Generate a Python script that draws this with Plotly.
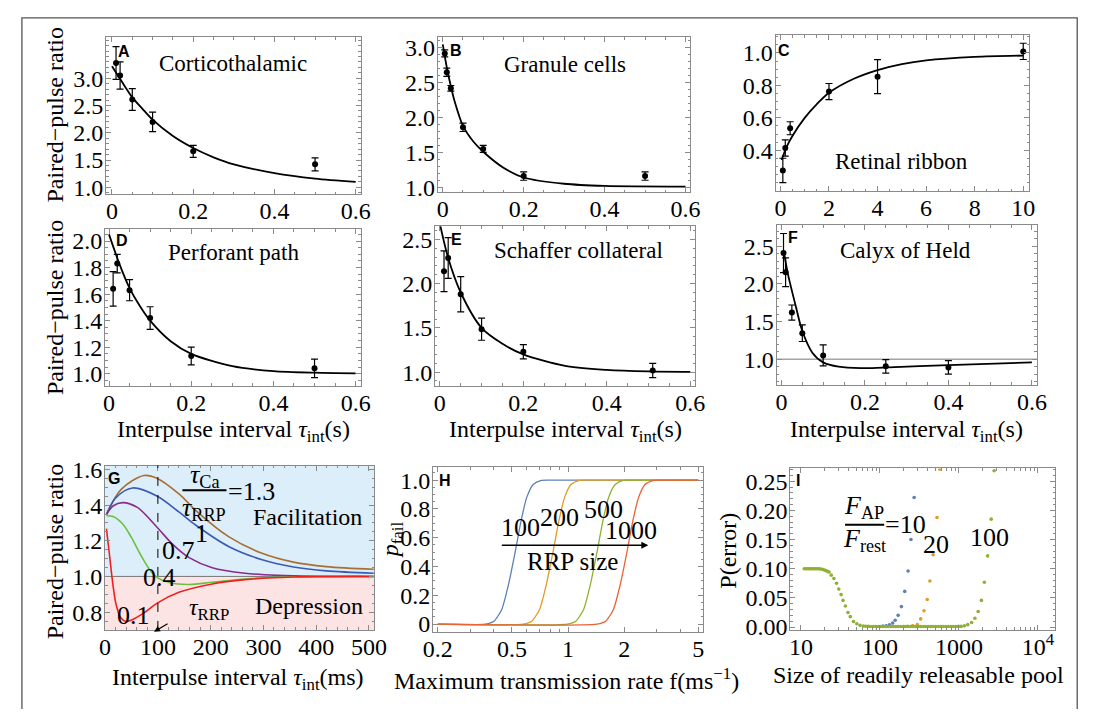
import plotly.graph_objects as go

# The page body keeps its default 8px margin, so the figure is drawn 8px in from each edge
# and all layout positions below are given in full-page pixels, then converted.
PAGE_W, PAGE_H = 1099, 717
OFF = 8
FW, FH = PAGE_W - 2 * OFF, PAGE_H - 2 * OFF
SERIF = "Liberation Serif"
SANS = "Liberation Sans"

# ---------------- data ----------------
# A Corticothalamic
a_x = [0.01, 0.02, 0.05, 0.1, 0.2, 0.5]
a_y = [3.28, 3.05, 2.61, 2.20, 1.66, 1.42]
a_err = [0.30, 0.25, 0.20, 0.18, 0.11, 0.12]
a_fit_x = [0, 0.025, 0.05, 0.075, 0.1, 0.15, 0.2, 0.25, 0.3, 0.4, 0.5, 0.6]
a_fit_y = [3.22, 2.93, 2.65, 2.44, 2.24, 1.94, 1.72, 1.55, 1.42, 1.26, 1.16, 1.10]
# B Granule cells
b_x = [0.005, 0.01, 0.02, 0.05, 0.1, 0.2, 0.5]
b_y = [2.92, 2.65, 2.42, 1.86, 1.55, 1.16, 1.16]
b_err = [0.05, 0.06, 0.04, 0.06, 0.05, 0.06, 0.06]
b_fit_x = [0, 0.01, 0.02, 0.03, 0.05, 0.075, 0.1, 0.15, 0.2, 0.3, 0.4, 0.6]
b_fit_y = [3.05, 2.72, 2.45, 2.22, 1.88, 1.66, 1.51, 1.28, 1.14, 1.05, 1.02, 1.01]
# C Retinal ribbon
c_x = [0.1, 0.2, 0.4, 2, 4, 10]
c_y = [0.276, 0.414, 0.536, 0.762, 0.854, 1.01]
c_err = [0.075, 0.05, 0.04, 0.05, 0.105, 0.05]
c_fit_x = [0.05, 0.25, 0.5, 1, 1.5, 2, 3, 4, 5, 6, 8, 10]
c_fit_y = [0.34, 0.42, 0.49, 0.60, 0.685, 0.755, 0.84, 0.895, 0.932, 0.955, 0.976, 0.984]
# D Perforant path
d_x = [0.01, 0.02, 0.05, 0.1, 0.2, 0.5]
d_y = [1.64, 1.83, 1.63, 1.42, 1.134, 1.041]
d_err = [0.13, 0.07, 0.08, 0.085, 0.067, 0.07]
d_fit_x = [0, 0.025, 0.05, 0.075, 0.1, 0.15, 0.2, 0.3, 0.4, 0.5, 0.6]
d_fit_y = [2.05, 1.83, 1.645, 1.51, 1.40, 1.245, 1.15, 1.057, 1.02, 1.008, 1.003]
# E Schaffer collateral
e_x = [0.01, 0.02, 0.05, 0.1, 0.2, 0.51]
e_y = [2.14, 2.29, 1.88, 1.485, 1.23, 1.018]
e_err = [0.23, 0.23, 0.20, 0.125, 0.08, 0.08]
e_fit_x = [0, 0.02, 0.05, 0.1, 0.15, 0.2, 0.3, 0.4, 0.5, 0.6]
e_fit_y = [2.68, 2.29, 1.90, 1.50, 1.32, 1.20, 1.07, 1.025, 1.008, 1.003]
# F Calyx of Held
f_x = [0.005, 0.01, 0.025, 0.05, 0.1, 0.25, 0.4]
f_y = [2.41, 2.155, 1.62, 1.345, 1.05, 0.905, 0.89]
f_err = [0.26, 0.19, 0.10, 0.11, 0.14, 0.09, 0.09]
f_fit_x = [0.006, 0.016, 0.035, 0.049, 0.074, 0.10, 0.137, 0.19, 0.243, 0.4, 0.6]
f_fit_y = [2.42, 2.12, 1.69, 1.39, 1.086, 0.957, 0.90, 0.88, 0.888, 0.922, 0.957]
reference_level = 1.0

# G model curves (tau_Ca / tau_RRP)
g_labels = ["1.3", "1", "0.7", "0.4", "0.1"]
g_x_13 = [2.5, 30, 73.5, 98, 141, 172, 234, 296, 357, 419, 509]
g_y_13 = [1.347, 1.487, 1.566, 1.551, 1.460, 1.369, 1.223, 1.131, 1.080, 1.055, 1.040]
g_x_10 = [2.5, 20, 52, 98, 141, 172, 234, 296, 357, 419, 509]
g_y_10 = [1.347, 1.44, 1.496, 1.451, 1.359, 1.287, 1.168, 1.095, 1.053, 1.031, 1.018]
g_x_07 = [2.5, 15, 33, 61, 98, 129, 160, 203, 265, 327, 400, 509]
g_y_07 = [1.347, 1.395, 1.414, 1.387, 1.277, 1.177, 1.104, 1.049, 1.018, 1.006, 1.001, 1.0]
g_x_04 = [2.5, 15, 33, 49, 67, 86, 98, 123, 160, 203, 265, 357, 509]
g_y_04 = [1.34, 1.336, 1.295, 1.223, 1.123, 1.031, 0.995, 0.964, 0.955, 0.967, 0.986, 0.998, 1.0]
g_x_01 = [2.5, 8.6, 15, 21, 30, 39, 49, 73, 98, 141, 203, 265, 357, 509]
g_y_01 = [1.268, 1.113, 0.949, 0.840, 0.767, 0.748, 0.754, 0.794, 0.849, 0.912, 0.958, 0.982, 0.997, 1.0]
g_marker_ms = 100

# H failure probability vs max transmission rate, by RRP size
h_labels = ["100", "200", "500", "1000"]
h_x_100 = [0.2, 0.36, 0.40, 0.44, 0.48, 0.52, 0.56, 0.60, 0.65, 0.72, 0.80, 5]
h_x_200 = [0.2, 0.575, 0.638, 0.702, 0.766, 0.83, 0.894, 0.958, 1.037, 1.149, 1.28, 5]
h_x_500 = [0.2, 0.99, 1.10, 1.21, 1.32, 1.43, 1.54, 1.65, 1.79, 1.98, 2.2, 5]
h_x_1000 = [0.2, 1.43, 1.59, 1.75, 1.91, 2.07, 2.23, 2.39, 2.59, 2.87, 3.2, 5]
h_y = [0, 0, 0.02, 0.10, 0.28, 0.50, 0.72, 0.88, 0.97, 0.998, 1.0, 1.0]

# I error probability vs RRP size for F_AP/F_rest
i_x_10 = [109, 120, 132, 145, 156, 170, 187, 206, 227, 247, 271]
i_y_10 = [0.0017, 0.0022, 0.0039, 0.0067, 0.0117, 0.020, 0.035, 0.0611, 0.0961, 0.150, 0.222]
i_x_20 = [200, 224, 259, 298, 328, 361, 397, 429, 471, 528, 576]
i_y_20 = [0.0008, 0.0012, 0.0022, 0.0044, 0.0139, 0.0278, 0.0472, 0.0789, 0.1239, 0.1878, 0.2706]
i_x_100 = [11.0, 11.6, 12.2, 12.8, 13.4, 14.0, 14.7, 15.4, 16.1, 16.9, 17.7, 18.6, 19.5, 20.5, 21.6,
           22.7, 24.2, 26.1, 28.2, 30.1, 32.2, 34.1, 36.5, 39.4, 42.1, 46.3, 50.9, 56.0, 61.5,
           66, 71, 76, 82, 88, 95, 102, 110, 118, 127, 137, 147, 158, 170, 183, 197, 212,
           228, 245, 264, 284, 305, 328, 353, 380, 409, 440, 473, 509, 548, 590, 635, 683,
           735, 791, 851, 916, 985, 1069, 1175, 1294, 1449, 1593, 1752, 1927, 2099, 2308,
           2563, 2793]
i_y_100 = [0.100, 0.100, 0.100, 0.100, 0.100, 0.100, 0.100, 0.100, 0.100, 0.0998, 0.0995, 0.099,
           0.098, 0.097, 0.0955,
           0.0944, 0.0889, 0.0833, 0.075, 0.065, 0.0556, 0.0456, 0.0361, 0.025, 0.0178, 0.0094,
           0.0056, 0.0028, 0.0017,
           0.0012, 0.0010, 0.0009, 0.0008, 0.0008, 0.0008, 0.0008, 0.0008, 0.0008, 0.0008,
           0.0008, 0.0008, 0.0008, 0.0008, 0.0008, 0.0008, 0.0008, 0.0008, 0.0008, 0.0008,
           0.0008, 0.0008, 0.0008, 0.0008, 0.0008, 0.0008, 0.0008, 0.0008, 0.0008, 0.0008,
           0.0008, 0.0008, 0.0008, 0.0008, 0.0008, 0.0008, 0.0009, 0.0010, 0.0010, 0.0020,
           0.0040, 0.0078, 0.015, 0.0267, 0.0456, 0.0767, 0.122, 0.185, 0.268]

# ---------------- helpers ----------------
FRAME = "#8a8a8a"
TICK_SIZE = 24


def px(x):
    return (x - OFF) / FW


def py(y):
    return 1 - (y - OFF) / FH


def dx(a, b):
    return [px(a), px(b)]


def dy(top, bottom):
    return [py(bottom), py(top)]


def axis(domain, rng, anchor, tickvals, ticktext, minor, typ="linear", standoff=-3):
    d = dict(domain=domain, range=rng, anchor=anchor, type=typ,
             showline=True, linecolor=FRAME, linewidth=1, mirror="ticks",
             ticks="inside", ticklen=5, tickcolor=FRAME, tickwidth=1,
             showgrid=False, zeroline=False, ticklabelstandoff=standoff,
             tickmode="array", tickvals=tickvals, ticktext=ticktext,
             tickfont=dict(family=SERIF, size=TICK_SIZE, color="black"))
    m = dict(ticks="inside", ticklen=2.5, tickcolor=FRAME, tickwidth=1, showgrid=False)
    m.update(minor)
    d["minor"] = m
    return d


def xaxis(*a, **k):
    return axis(*a, standoff=-5, **k)


def yaxis(*a, **k):
    return axis(*a, standoff=-3, **k)


def fmt(vals, f):
    return [f.format(v) for v in vals]


fig = go.Figure()

panels = [
    (a_x, a_y, a_err, a_fit_x, a_fit_y),
    (b_x, b_y, b_err, b_fit_x, b_fit_y),
    (c_x, c_y, c_err, c_fit_x, c_fit_y),
    (d_x, d_y, d_err, d_fit_x, d_fit_y),
    (e_x, e_y, e_err, e_fit_x, e_fit_y),
    (f_x, f_y, f_err, f_fit_x, f_fit_y),
]
for k, (sx, sy, se, fx, fy) in enumerate(panels, start=1):
    xa = "x" if k == 1 else f"x{k}"
    ya = "y" if k == 1 else f"y{k}"
    fig.add_trace(go.Scatter(x=fx, y=fy, mode="lines", line=dict(color="black", width=1.8, shape="spline", smoothing=0.8),
                             xaxis=xa, yaxis=ya, showlegend=False, hoverinfo="skip"))
    fig.add_trace(go.Scatter(x=sx, y=sy, mode="markers", marker=dict(color="black", size=6),
                             error_y=dict(type="data", array=se, color="black", thickness=1.2, width=3.5),
                             xaxis=xa, yaxis=ya, showlegend=False))

g_colors = ["#A86E32", "#3A5BB5", "#8A2A8A", "#6CC040", "#F02020"]
for (gx, gy), col in zip([(g_x_13, g_y_13), (g_x_10, g_y_10), (g_x_07, g_y_07), (g_x_04, g_y_04), (g_x_01, g_y_01)], g_colors):
    fig.add_trace(go.Scatter(x=gx, y=gy, mode="lines", line=dict(color=col, width=1.6, shape="spline", smoothing=0.9),
                             xaxis="x7", yaxis="y7", showlegend=False))

h_colors = ["#5E81B5", "#E19C24", "#8FB032", "#EB6235"]
for hx, col in zip([h_x_100, h_x_200, h_x_500, h_x_1000], h_colors):
    fig.add_trace(go.Scatter(x=hx, y=h_y, mode="lines", line=dict(color=col, width=1.3, shape="spline", smoothing=0.6),
                             xaxis="x8", yaxis="y8", showlegend=False))

for ix, iy, col in [(i_x_10, i_y_10, "#5E81B5"), (i_x_20, i_y_20, "#E19C24"), (i_x_100, i_y_100, "#8FB032")]:
    fig.add_trace(go.Scatter(x=ix, y=iy, mode="markers", marker=dict(color=col, size=3.6),
                             xaxis="x9", yaxis="y9", showlegend=False, cliponaxis=True))

x06 = [0, 0.2, 0.4, 0.6]
x06t = ["0", "0.2", "0.4", "0.6"]
layout = dict(width=FW, height=FH, margin=dict(l=0, r=0, t=0, b=0),
              paper_bgcolor="white", plot_bgcolor="white", showlegend=False)

layout["xaxis"] = xaxis(dx(98, 358), [-0.0145, 0.612], "y", x06, x06t, dict(dtick=0.05, tick0=0))
layout["yaxis"] = yaxis(dy(29, 190), [0.875, 3.75], "x", [1, 1.5, 2, 2.5, 3], fmt([1, 1.5, 2, 2.5, 3], "{:.1f}"), dict(dtick=0.1, tick0=0))
layout["xaxis2"] = xaxis(dx(437, 695), [-0.012, 0.612], "y2", x06, x06t, dict(dtick=0.05, tick0=0))
layout["yaxis2"] = yaxis(dy(29, 188), [0.93, 3.15], "x2", [1, 1.5, 2, 2.5, 3], fmt([1, 1.5, 2, 2.5, 3], "{:.1f}"), dict(dtick=0.1, tick0=0))
layout["xaxis3"] = xaxis(dx(782, 1041), [-0.2, 10.24], "y3", [0, 2, 4, 6, 8, 10], ["0", "2", "4", "6", "8", "10"], dict(dtick=0.5, tick0=0))
layout["yaxis3"] = yaxis(dy(27, 187), [0.148, 1.108], "x3", [0.4, 0.6, 0.8, 1.0], ["0.4", "0.6", "0.8", "1.0"], dict(dtick=0.05, tick0=0))
layout["xaxis4"] = xaxis(dx(97, 358), [-0.0095, 0.612], "y4", x06, x06t, dict(dtick=0.05, tick0=0))
layout["yaxis4"] = yaxis(dy(226, 387), [0.91, 2.09], "x4", [1, 1.2, 1.4, 1.6, 1.8, 2.0], fmt([1, 1.2, 1.4, 1.6, 1.8, 2.0], "{:.1f}"), dict(dtick=0.05, tick0=0))
layout["xaxis5"] = xaxis(dx(434, 700), [-0.0117, 0.612], "y5", x06, x06t, dict(dtick=0.05, tick0=0))
layout["yaxis5"] = yaxis(dy(223, 387), [0.846, 2.65], "x5", [1, 1.5, 2, 2.5], fmt([1, 1.5, 2, 2.5], "{:.1f}"), dict(dtick=0.1, tick0=0))
layout["xaxis6"] = xaxis(dx(783, 1049), [-0.0117, 0.612], "y6", x06, x06t, dict(dtick=0.05, tick0=0))
layout["yaxis6"] = yaxis(dy(222, 386), [0.66, 2.78], "x6", [1, 1.5, 2, 2.5], fmt([1, 1.5, 2, 2.5], "{:.1f}"), dict(dtick=0.1, tick0=0))
layout["xaxis7"] = xaxis(dx(97, 372), [0, 510], "y7", [0, 100, 200, 300, 400, 500], ["0", "100", "200", "300", "400", "500"], dict(dtick=20, tick0=0))
layout["yaxis7"] = yaxis(dy(469, 638), [0.70, 1.622], "x7", [0.8, 1.0, 1.2, 1.4, 1.6], ["0.8", "1.0", "1.2", "1.4", "1.6"], dict(dtick=0.05, tick0=0))
layout["xaxis8"] = xaxis(dx(432, 708), [-0.725, 0.725], "y8", [0.2, 0.5, 1, 2, 5], ["0.2", "0.5", "1", "2", "5"],
                         dict(tickmode="array", tickvals=[0.3, 0.4, 0.6, 0.7, 0.8, 0.9, 3, 4]), typ="log")
layout["yaxis8"] = yaxis(dy(471, 640), [-0.054, 1.088], "x8", [0, 0.2, 0.4, 0.6, 0.8, 1.0], ["0", "0.2", "0.4", "0.6", "0.8", "1.0"], dict(dtick=0.05, tick0=0))
i_minor = [20, 30, 40, 50, 60, 70, 80, 90, 200, 300, 400, 500, 600, 700, 800, 900, 2000, 3000, 4000, 5000, 6000, 7000, 8000, 9000]
layout["xaxis9"] = xaxis(dx(797, 1068), [0.864, 4.223], "y9", [10, 100, 1000, 10000], ["10", "100", "1000", "10<sup>4</sup>"],
                         dict(tickmode="array", tickvals=i_minor), typ="log")
layout["yaxis9"] = yaxis(dy(472, 638), [-0.005, 0.272], "x9", [0, 0.05, 0.1, 0.15, 0.2, 0.25], fmt([0, 0.05, 0.1, 0.15, 0.2, 0.25], "{:.2f}"), dict(dtick=0.01, tick0=0))

fig.update_layout(**layout)

# ---------------- shapes ----------------
shapes = []
shapes.append(dict(type="rect", xref="paper", yref="paper", x0=px(12), x1=1 - 0.8 / FW, y0=-0.05, y1=1 - 0.8 / FH,
                   line=dict(color="#555", width=1.3), fillcolor="rgba(0,0,0,0)", layer="below"))
shapes.append(dict(type="rect", xref="x7 domain", yref="y7", x0=0, x1=1, y0=reference_level, y1=1.622,
                   fillcolor="#DCEEF9", line=dict(width=0), layer="below"))
shapes.append(dict(type="rect", xref="x7 domain", yref="y7", x0=0, x1=1, y0=0.70, y1=reference_level,
                   fillcolor="#FCE4E4", line=dict(width=0), layer="below"))
shapes.append(dict(type="line", xref="x7 domain", yref="y7", x0=0, x1=1, y0=reference_level, y1=reference_level,
                   line=dict(color="#777", width=1), layer="below"))
shapes.append(dict(type="line", xref="x7", yref="y7 domain", x0=g_marker_ms, x1=g_marker_ms, y0=0, y1=1,
                   line=dict(color="black", width=1, dash="dash")))
shapes.append(dict(type="line", xref="x6 domain", yref="y6", x0=0, x1=1, y0=reference_level, y1=reference_level,
                   line=dict(color="#777", width=1), layer="below"))
shapes.append(dict(type="line", xref="paper", yref="paper", x0=px(176), x1=px(221), y0=py(494.5), y1=py(494.5),
                   line=dict(color="black", width=2)))
shapes.append(dict(type="line", xref="paper", yref="paper", x0=px(853), x1=px(893), y0=py(530), y1=py(530),
                   line=dict(color="black", width=2)))
fig.update_layout(shapes=shapes)

# ---------------- annotations ----------------
anns = []


def ann(text, x, y, size=21, family=SERIF, bold=False, angle=0, xanchor="center"):
    anns.append(dict(text=f"<b>{text}</b>" if bold else text, x=px(x), y=py(y), xref="paper", yref="paper",
                     showarrow=False, xanchor=xanchor, yanchor="middle", textangle=angle,
                     font=dict(family=family, size=size, color="black")))


for lab, x, y in [("A", 116, 43), ("B", 456, 42), ("C", 791, 42), ("D", 114, 238), ("E", 456, 237),
                  ("F", 800, 235), ("G", 106, 482), ("H", 444, 484), ("I", 805, 484)]:
    ann(lab, x, y, size=16, family=SANS, bold=True)

PT = 23
ann("Corticothalamic", 228, 56, PT)
ann("Granule cells", 567, 57, PT)
ann("Retinal ribbon", 911, 157, PT)
ann("Perforant path", 228, 250, PT)
ann("Schaffer collateral", 581, 248, PT)
ann("Calyx of Held", 915, 248, PT)

AT = 24
for y in (108, 306, 557):
    ann("Paired\u2212pulse ratio", 46, y, AT, angle=-90)
ann("<i>p</i><sub>fail</sub>", 391, 545, 24, angle=-90)
ann("P(error)", 734, 557, AT, angle=-90)

for x in (228, 567, 916):
    ann("Interpulse interval <i>\u03c4</i><sub>int</sub>(s)", x, 434, AT)
ann("Interpulse interval <i>\u03c4</i><sub>int</sub>(ms)", 233, 688, AT)
ann("Maximum transmission rate f(ms<sup>\u22121</sup>)", 568, 688, AT)
ann("Size of readily releasable pool", 928, 684, AT)

NL = 26
# G labels
ann("<i>\u03c4</i><sub>Ca</sub>", 199, 480, NL)
ann("=1.3", 247, 496, NL)
ann("<i>\u03c4</i><sub>RRP</sub>", 198, 514, NL)
ann("Facilitation", 304, 522, AT)
ann("1", 195, 539, NL)
ann("0.7", 172, 556, NL)
ann("0.4", 153, 584, NL)
ann("0.1", 126, 623, NL)
ann("<i>\u03c4</i><sub>RRP</sub>", 203, 616, AT)
ann("Depression", 305, 613, AT)
anns.append(dict(text="", x=px(147), y=py(640), xref="paper", yref="paper", showarrow=True,
                 ax=15, ay=-9, arrowhead=2, arrowsize=1, arrowwidth=1.2, arrowcolor="black"))

# H labels
ann(h_labels[0], 521, 533, NL)
ann(h_labels[1], 561, 522, NL)
ann(h_labels[2], 606, 514, NL)
ann(h_labels[3], 634, 536, NL)
ann("RRP size", 575, 568, 25)
anns.append(dict(text="", x=px(652), y=py(551), xref="paper", yref="paper", showarrow=True,
                 ax=-148, ay=0, arrowhead=2, arrowsize=1, arrowwidth=1.4, arrowcolor="black"))

# I labels
ann("<i>F</i><sub>AP</sub>", 872, 512, NL)
ann("<i>F</i><sub>rest</sub>", 873, 546, NL)
ann("=10", 915, 530, NL)
ann("20", 946, 550, NL)
ann("100", 1001, 543, NL)

fig.update_layout(annotations=anns)
fig.write_html("out.html", config={"displayModeBar": False})
